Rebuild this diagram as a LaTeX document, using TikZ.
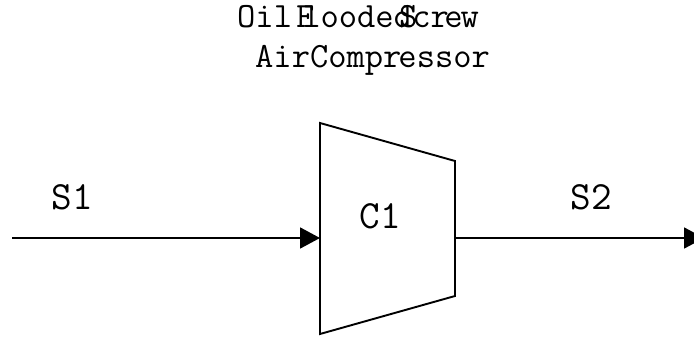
\documentclass[tikz,border=0pt]{standalone}
\usepackage{tikz}
\usetikzlibrary{arrows.meta}

\begin{document}
\begin{tikzpicture}
[x=1pt,y=-1pt
,lbl/.style={inner sep=0pt,font=\fontsize{40}{40}\ttfamily}
,ttl/.style={inner sep=0pt,anchor=base west,font=\fontsize{35.5}{35.5}\ttfamily}
,be/.style={line width=1.9pt,arrows={-Triangle[length=20pt,width=21pt]}}
,comp/.style={line width=1.9pt,line join=miter}]
\useasboundingbox (0,0) rectangle (694,337);
\node[ttl] (t1) at (237,28) {Oil\kern4pt F\kern-12pt lood\kern0pt e\kern0pt d\kern-13pt S\kern-5pt cr\kern-4.5pt e\kern-2pt w};
\node[ttl] (t2) at (255,67) {AirCompr\kern-3pt essor};
\coordinate (c1) at (320,123);
\coordinate (c2) at (455,161);
\coordinate (c3) at (455,296);
\coordinate (c4) at (320,334);
\coordinate (in) at (320,238);
\coordinate (out) at (455,238);
\coordinate (a) at (12,238);
\coordinate (b) at (704,238);
\draw[comp] (c1) -- (c2) -- (c3) -- (c4) -- cycle;
\node[lbl] (n1) at (380.5,216) {C1};
\node[lbl] (s1) at (72,197) {S1};
\node[lbl] (s2) at (591,197) {S2};
\draw[be] (a) -- (in);
\draw[be] (out) -- (b);
\end{tikzpicture}
\end{document}
